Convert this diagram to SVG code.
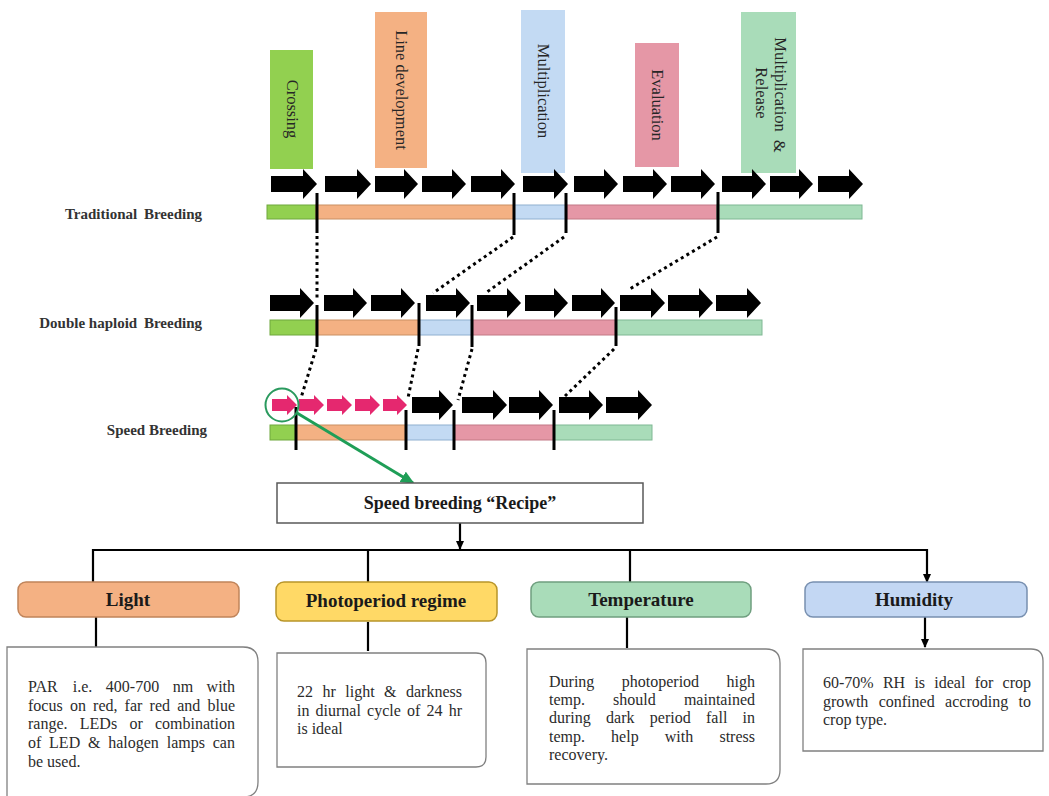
<svg xmlns="http://www.w3.org/2000/svg" width="1049" height="796" viewBox="0 0 1049 796">
<style>
.lbl{font-family:"Liberation Serif","Times New Roman",serif;font-size:16.5px;fill:#262626;text-anchor:middle;dominant-baseline:central}
.row{font-family:"Liberation Serif","Times New Roman",serif;font-size:15px;font-weight:bold;fill:#333;text-anchor:end}
.hd{font-family:"Liberation Serif","Times New Roman",serif;font-size:19px;font-weight:bold;fill:#1a1a1a;text-anchor:middle}
.ds{font-family:"Liberation Serif","Times New Roman",serif;font-size:16px;fill:#2b2b2b}
.ar{fill:#000}
.pk{fill:#e5286f}
.dv{stroke:#000;stroke-width:3;fill:none}
.dot{stroke:#000;stroke-width:3;stroke-dasharray:3 3.5;fill:none}
.cn{stroke:#000;stroke-width:2.2;fill:none;marker-end:url(#ah)}
.box{fill:#fff;stroke:#808080;stroke-width:1.3}
.g{fill:#92d050;stroke:#6fa83c;stroke-width:1}
.o{fill:#f4b183;stroke:#c98f62;stroke-width:1}
.b{fill:#c3daf3;stroke:#8fb0d0;stroke-width:1}
.p{fill:#e597a6;stroke:#c27885;stroke-width:1}
.m{fill:#a9dcb9;stroke:#7fb893;stroke-width:1}
</style>
<defs>
<marker id="ah" markerWidth="9" markerHeight="9" refX="8" refY="4.5" orient="auto" markerUnits="userSpaceOnUse">
<path d="M0,0.5L9,4.5L0,8.5Z" fill="#000"/>
</marker>
<marker id="gh" markerWidth="14" markerHeight="12" refX="12" refY="6" orient="auto" markerUnits="userSpaceOnUse">
<path d="M0,0L14,6L0,12Z" fill="#1f9e57"/>
</marker>
</defs>
<rect width="1049" height="796" fill="#fff"/>

<g id="stage-labels">
<rect x="270" y="50" width="43" height="119" fill="#92d050"/>
<text class="lbl" transform="translate(292,109) rotate(90)">Crossing</text>
<rect x="375" y="12" width="52" height="156" fill="#f4b183"/>
<text class="lbl" transform="translate(401,90) rotate(90)">Line development</text>
<rect x="521" y="10" width="44" height="163" fill="#c3daf3"/>
<text class="lbl" transform="translate(543,91) rotate(90)">Multiplication</text>
<rect x="635" y="43" width="44" height="124" fill="#e597a6"/>
<text class="lbl" transform="translate(657,105) rotate(90)">Evaluation</text>
<rect x="741" y="12" width="55" height="161" fill="#a9dcb9"/>
<text class="lbl" transform="translate(780,95) rotate(90)">Multiplication <tspan dx="4">&amp;</tspan></text>
<text class="lbl" transform="translate(761,93) rotate(90)">Release</text>
</g>

<g id="traditional">
<text class="row" x="202" y="219">Traditional <tspan dx="3">Breeding</tspan></text>
<rect class="g" x="267" y="205" width="49" height="14"/>
<rect class="o" x="316" y="205" width="198" height="14"/>
<rect class="b" x="514" y="205" width="53" height="14"/>
<rect class="p" x="567" y="205" width="150" height="14"/>
<rect class="m" x="717" y="205" width="145" height="14"/>
<path class="ar" d="M271,176H303V169L317,184L303,199V192H271Z M325,176H357V169L371,184L357,199V192H325Z M375,176H404V169L418,184L404,199V192H375Z M422,176H452V169L466,184L452,199V192H422Z M471,176H501V169L515,184L501,199V192H471Z M523,176H554V169L568,184L554,199V192H523Z M574,176H604V169L618,184L604,199V192H574Z M623,176H653V169L667,184L653,199V192H623Z M671,176H701V169L715,184L701,199V192H671Z M722,176H752V169L766,184L752,199V192H722Z M770,176H799V169L813,184L799,199V192H770Z M818,176H849V169L863,184L849,199V192H818Z"/>
<path class="dv" d="M317,193V233 M514,193V235 M566,193V233 M718,192V233"/>
</g>

<g id="double-haploid">
<text class="row" x="202" y="328">Double haploid <tspan dx="3">Breeding</tspan></text>
<rect class="g" x="270" y="320" width="46" height="15"/>
<rect class="o" x="316" y="320" width="103" height="15"/>
<rect class="b" x="419" y="320" width="53" height="15"/>
<rect class="p" x="472" y="320" width="144" height="15"/>
<rect class="m" x="616" y="320" width="146" height="15"/>
<path class="ar" d="M270,295H300V288L314,303L300,318V311H270Z M324,295H353V288L367,303L353,318V311H324Z M371,295H401V288L415,303L401,318V311H371Z M426,295H456V288L470,303L456,318V311H426Z M477,295H507V288L521,303L507,318V311H477Z M525,295H554V288L568,303L554,318V311H525Z M572,295H601V288L615,303L601,318V311H572Z M620,295H651V288L665,303L651,318V311H620Z M668,295H699V288L713,303L699,318V311H668Z M716,295H747V288L761,303L747,318V311H716Z"/>
<path class="dv" d="M317,305V347 M419,303V346 M472,305V347 M616,307V346"/>
</g>

<g id="speed">
<text class="row" x="207" y="435">Speed Breeding</text>
<rect class="g" x="270" y="425" width="26" height="15"/>
<rect class="o" x="296" y="425" width="110" height="15"/>
<rect class="b" x="406" y="425" width="48" height="15"/>
<rect class="p" x="454" y="425" width="100" height="15"/>
<rect class="m" x="554" y="425" width="98" height="15"/>
<path class="pk" d="M272,399H287V395L297,405L287,415V411H272Z M299,399H314V395L324,405L314,415V411H299Z M327,399H342V395L352,405L342,415V411H327Z M355,399H370V395L380,405L370,415V411H355Z M383,399H397V395L407,405L397,415V411H383Z"/>
<path class="ar" d="M412,397H439V390L453,405L439,420V413H412Z M462,397H493V390L507,405L493,420V413H462Z M509,397H539V390L553,405L539,420V413H509Z M559,397H589V390L603,405L589,420V413H559Z M606,397H638V390L652,405L638,420V413H606Z"/>
<path class="dv" d="M296,407V450 M406,410V450 M454,410V450 M554,410V450"/>
<circle cx="282" cy="405" r="16.5" fill="none" stroke="#2a9a5e" stroke-width="2"/>
</g>

<g id="connectors">
<path class="dot" d="M317,236V300 M513,237L433,293 M564,237L487,292 M717,237L628,290"/>
<path class="dot" d="M316,349L301,398 M418,349L408,398 M472,349L458,400 M614,349L565,396"/>
<line x1="297" y1="413" x2="413" y2="483" stroke="#1f9e57" stroke-width="3" marker-end="url(#gh)"/>
<path class="cn" d="M460,523V549"/>
<path d="M93,550H927" stroke="#000" stroke-width="2.2" fill="none"/>
<path class="cn" d="M93,549V582 M368,549V582 M630,549V582 M927,549V582"/>
<path class="cn" d="M96,617V647 M368,622V651 M627,617V648 M925,617V647"/>
</g>

<g id="recipe">
<rect x="277" y="483" width="366" height="40" fill="#fff" stroke="#595959" stroke-width="1.5"/>
<text class="hd" x="460" y="509" style="font-size:18px">Speed breeding “Recipe”</text>
</g>

<g id="light">
<rect x="18" y="582" width="221" height="35" rx="8" fill="#f4b183" stroke="#c0845a" stroke-width="1.5"/>
<text class="hd" x="128" y="606">Light</text>
<path class="box" d="M7,647H243Q258,647 258,662V782Q258,797 243,797H7Z"/>
<text class="ds"><tspan x="28" y="692">PAR</tspan><tspan x="72.7" y="692">i.e.</tspan><tspan x="105.8" y="692">400-700</tspan><tspan x="172.7" y="692">nm</tspan><tspan x="206.6" y="692">with</tspan></text>
<text class="ds"><tspan x="28" y="711">focus</tspan><tspan x="69.9" y="711">on</tspan><tspan x="93.1" y="711">red,</tspan><tspan x="124.6" y="711">far</tspan><tspan x="149.6" y="711">red</tspan><tspan x="177.2" y="711">and</tspan><tspan x="207.5" y="711">blue</tspan></text>
<text class="ds"><tspan x="28" y="729">range.</tspan><tspan x="79.8" y="729">LEDs</tspan><tspan x="129.4" y="729">or</tspan><tspan x="155" y="729">combination</tspan></text>
<text class="ds"><tspan x="28" y="748">of</tspan><tspan x="49.1" y="748">LED</tspan><tspan x="88" y="748">&amp;</tspan><tspan x="108.2" y="748">halogen</tspan><tspan x="166.7" y="748">lamps</tspan><tspan x="212.7" y="748">can</tspan></text>
<text class="ds" x="28" y="767">be used.</text>
</g>

<g id="photoperiod">
<rect x="276" y="582" width="221" height="39" rx="8" fill="#ffd966" stroke="#b8952a" stroke-width="1.5"/>
<text class="hd" x="386" y="607">Photoperiod regime</text>
<path class="box" d="M277,653H476Q486,653 486,663V757Q486,767 476,767H277Z"/>
<text class="ds"><tspan x="297" y="697">22</tspan><tspan x="322.5" y="697">hr</tspan><tspan x="345.3" y="697">light</tspan><tspan x="384.1" y="697">&amp;</tspan><tspan x="406" y="697">darkness</tspan></text>
<text class="ds"><tspan x="297" y="716">in</tspan><tspan x="315.6" y="716">diurnal</tspan><tspan x="367.1" y="716">cycle</tspan><tspan x="407.1" y="716">of</tspan><tspan x="426.6" y="716">24</tspan><tspan x="448.8" y="716">hr</tspan></text>
<text class="ds" x="297" y="734">is ideal</text>
</g>

<g id="temperature">
<rect x="531" y="582" width="220" height="35" rx="8" fill="#a9dcb9" stroke="#6f9f7f" stroke-width="1.5"/>
<text class="hd" x="641" y="606">Temperature</text>
<path class="box" d="M527,649H766Q780,649 780,663V770Q780,784 766,784H527Z"/>
<text class="ds"><tspan x="549" y="687">During</tspan><tspan x="621.8" y="687">photoperiod</tspan><tspan x="755" y="687" text-anchor="end">high</tspan></text>
<text class="ds"><tspan x="549" y="705">temp.</tspan><tspan x="613.1" y="705">should</tspan><tspan x="755" y="705" text-anchor="end">maintained</tspan></text>
<text class="ds"><tspan x="549" y="723">during</tspan><tspan x="606.1" y="723">dark</tspan><tspan x="649.8" y="723">period</tspan><tspan x="706" y="723">fall</tspan><tspan x="742.6" y="723">in</tspan></text>
<text class="ds"><tspan x="549" y="742">temp.</tspan><tspan x="611.1" y="742">help</tspan><tspan x="664.8" y="742">with</tspan><tspan x="755" y="742" text-anchor="end">stress</tspan></text>
<text class="ds" x="549" y="760">recovery.</text>
</g>

<g id="humidity">
<rect x="805" y="582" width="222" height="35" rx="8" fill="#c3d7f3" stroke="#7890b0" stroke-width="1.5"/>
<text class="hd" x="914" y="606">Humidity</text>
<path class="box" d="M803,649H1031Q1043,649 1043,661V751H803Z"/>
<text class="ds"><tspan x="823" y="688">60-70%</tspan><tspan x="882.9" y="688">RH</tspan><tspan x="914.4" y="688">is</tspan><tspan x="934.3" y="688">ideal</tspan><tspan x="974.7" y="688">for</tspan><tspan x="1031" y="688" text-anchor="end">crop</tspan></text>
<text class="ds"><tspan x="823" y="707">growth</tspan><tspan x="878.7" y="707">confined</tspan><tspan x="945.1" y="707">accroding</tspan><tspan x="1031" y="707" text-anchor="end">to</tspan></text>
<text class="ds" x="823" y="725">crop type.</text>
</g>
</svg>
